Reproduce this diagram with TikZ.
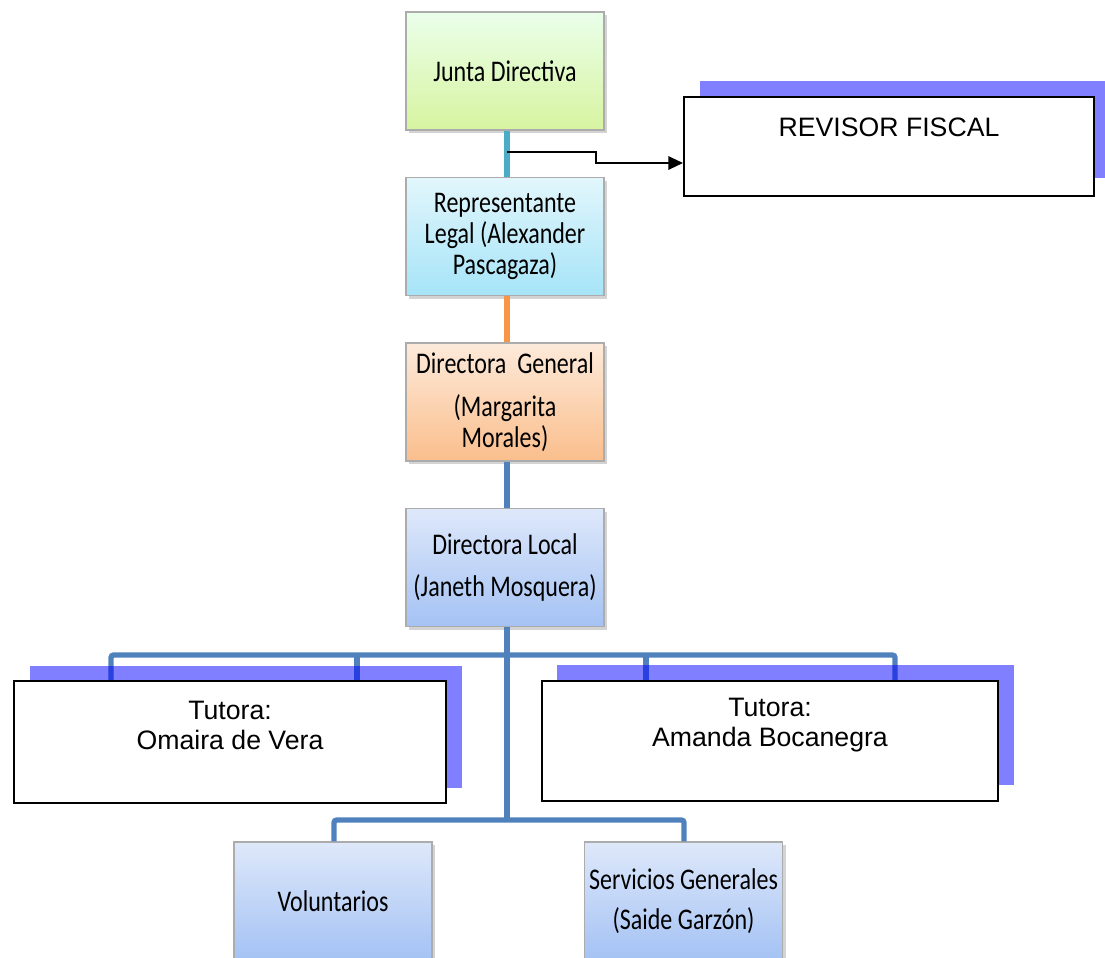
\documentclass[tikz,border=0pt]{standalone}
\usepackage{fontspec}
\setmainfont{Liberation Sans}
\newfontfamily\carlito{Carlito}
\usetikzlibrary{shadows,arrows.meta,calc}
\definecolor{cteal}{HTML}{4BACC6}
\definecolor{corange}{HTML}{F79646}
\definecolor{cblue}{HTML}{4F81BD}
\definecolor{shblue}{HTML}{0000FF}
\newcommand\stx[1]{\scalebox{1}[1.25]{#1}}
\tikzset{
  orgbox/.style={draw=gray!65, line width=0.8pt, minimum width=148.5pt, minimum height=88.5pt,
    align=center, inner sep=2pt, font=\carlito\fontsize{18}{23}\selectfont,
    drop shadow={opacity=0.35, shadow xshift=2.5pt, shadow yshift=-2.5pt}},
  gbox/.style={orgbox, top color=green!8!white, bottom color={rgb,255:red,214;green,244;blue,160}},
  cbox/.style={orgbox, top color={rgb,255:red,226;green,246;blue,252}, bottom color={rgb,255:red,166;green,228;blue,248}},
  obox/.style={orgbox, top color={rgb,255:red,253;green,234;blue,218}, bottom color={rgb,255:red,250;green,190;blue,140}},
  bbox/.style={orgbox, top color={rgb,255:red,222;green,232;blue,250}, bottom color={rgb,255:red,164;green,194;blue,244}},
  conn/.style={line width=4pt, rounded corners=2pt},
  wbox/.style={draw=black, line width=1.5pt, fill=white},
  atext/.style={align=center, font=\fontsize{20}{22.5}\selectfont, inner sep=0pt},
  shadowrect/.style={fill=shblue, opacity=0.5},
  arr/.style={line width=1.6pt, -{Triangle[length=11pt,width=10pt]}}
}
\begin{document}
\begin{tikzpicture}[x=0.75pt,y=-0.75pt]
\useasboundingbox (0,0) rectangle (1105,957);
\coordinate (tap) at (507,152);
\coordinate (hubL) at (111,655);
\coordinate (hubR) at (895,655);
\coordinate (low) at (507,820);
% boxes
\node[gbox] (junta) at (505,71) {\stx{Junta Directiva}};
\node[cbox] (rep) at (505,236.5) {\stx{Representante}\\\stx{Legal (Alexander}\\\stx{Pascagaza)}};
\node[obox] (dgen) at (505,402) {\stx{Directora\ \ General}\\[9pt]\stx{(Margarita}\\\stx{Morales)}};
\node[bbox] (dloc) at (505,567.5) {\stx{Directora Local}\\[8pt]\stx{(Janeth Mosquera)}};
\node[bbox] (vol) at (333,901) {\stx{Voluntarios}};
\node[bbox] (serv) at (683.5,901) {\stx{Servicios Generales}\\[7.5pt]\stx{(Saide Garzón)}};
% connectors
\draw[conn, cteal] (junta.south -| 507,0) -- (rep.north -| 507,0);
\draw[conn, corange] (rep.south -| 507,0) -- (dgen.north -| 507,0);
\draw[conn, cblue] (dgen.south -| 507,0) -- (dloc.north -| 507,0);
\draw[conn, cblue] (dloc.south -| 507,0) -- (low);
\draw[conn, cblue] (111,690) -- (hubL) -- (hubR) -- (895,690);
\draw[conn, cblue] (357,655) -- (357,690);
\draw[conn, cblue] (646,655) -- (646,690);
\draw[conn, cblue] (vol.north -| 334,0) -- (334,820) -- (low) -- (684,820) -- (serv.north -| 684,0);
% blue shadow rectangles
\fill[shadowrect] (30,666) rectangle (462,788);
\fill[shadowrect] (557,665) rectangle (1014,785);
\fill[shadowrect] (700,81) rectangle (1105,178);
% white boxes
\node[wbox, minimum width=324pt, minimum height=91.5pt] (tl) at (230,742) {};
\node[atext] (tltext) at (230,725) {Tutora:\\Omaira de Vera};
\node[wbox, minimum width=342pt, minimum height=90pt] (tr) at (770,741) {};
\node[atext] (trtext) at (770,725) {Tutora:\\Amanda Bocanegra};
\node[wbox, minimum width=307.5pt, minimum height=74.25pt] (rev) at (889,146.5) {};
\node[atext] (revtext) at (889,127) {REVISOR FISCAL};
% arrow to revisor
\draw[arr] (tap) -- (596,152) -- (596,163) -- (rev.west |- 596,163);
\end{tikzpicture}
\end{document}
